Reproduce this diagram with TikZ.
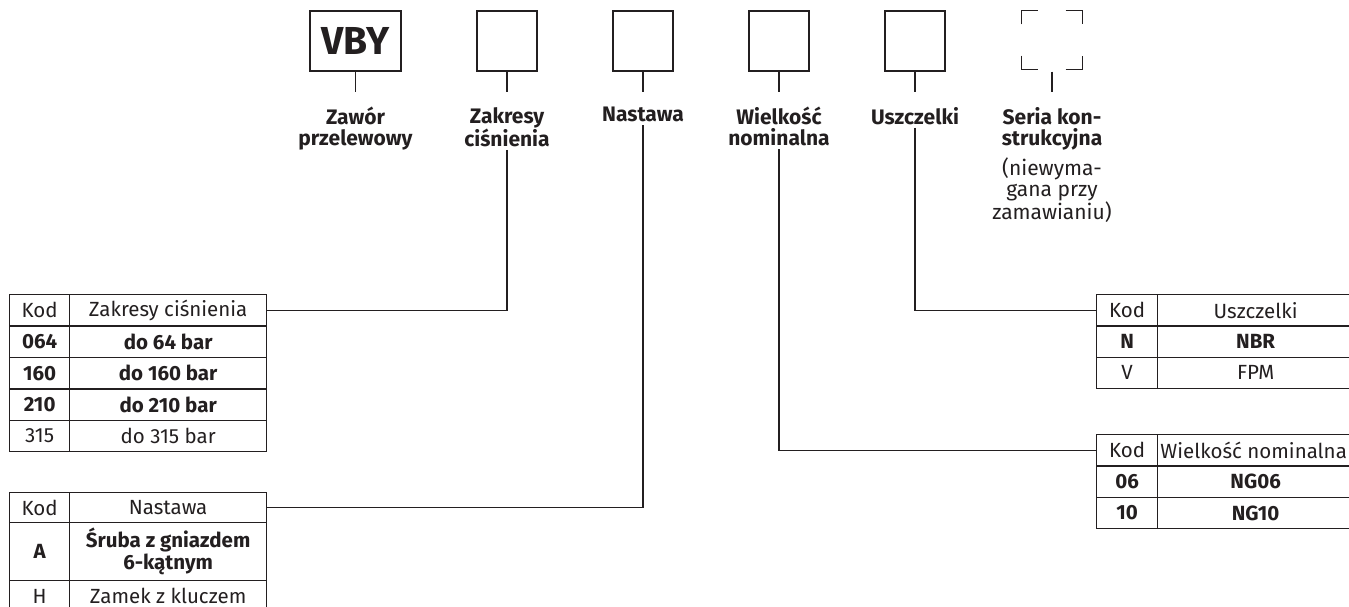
\documentclass[tikz,border=0pt]{standalone}
\usepackage{fontspec}
\setmainfont{Fira Sans}
\definecolor{ink}{HTML}{231F20}
\begin{document}
\begin{tikzpicture}[x=1pt,y=-1pt,
  every node/.style={text=ink},
  codebox/.style={draw=ink, line width=1.4pt, minimum width=60pt, minimum height=60pt, inner sep=0pt},
  lbl/.style={font=\bfseries\fontsize{21}{21}\selectfont, align=center, anchor=north, inner sep=3pt},
  conn/.style={draw=ink, line width=1.3pt},
  cell/.style={draw=ink, line width=1.3pt, inner sep=0pt, anchor=north west, align=center, font=\fontsize{20.5}{22}\selectfont},
  bcell/.style={cell, font=\bfseries\fontsize{20.5}{22}\selectfont}
]
\clip (0,0) rectangle (1349,607);
\fill[white] (0,0) rectangle (1349,607);

% code boxes
\node[codebox, minimum width=91pt, font=\bfseries\fontsize{39}{40}\selectfont] (b1) at (355.5,41) {VBY};
\node[codebox] (b2) at (507,41) {};
\node[codebox] (b3) at (643,41) {};
\node[codebox] (b4) at (779,41) {};
\node[codebox] (b5) at (915,41) {};
\node[codebox, draw=none, minimum height=58pt] (b6) at (1052,40) {};
\draw[conn] (b6.north west) ++(0,14) -- ++(0,-14) -- ++(17,0);
\draw[conn] (b6.north east) ++(-17,0) -- ++(17,0) -- ++(0,14);
\draw[conn] (b6.south west) ++(0,-14) -- ++(0,14) -- ++(17,0);
\draw[conn] (b6.south east) ++(-17,0) -- ++(17,0) -- ++(0,-14);

% ticks
\foreach \b in {b1,b2,b3,b4,b5} {\draw[conn] (\b.south) -- (\b.south |- 0,92);}
\draw[conn] (b6.south) ++(0,2) -- (b6.south |- 0,92);

% labels
\node[lbl] (l1) at (355.5,104) {Zawór\\przelewowy};
\node[lbl] (l2) at (507,104) {Zakresy\\ciśnienia};
\node[lbl] (l3) at (643,104) {Nastawa};
\node[lbl] (l4) at (779,104) {Wielkość\\nominalna};
\node[lbl] (l5) at (915,104) {Uszczelki};
\node[lbl] (l6) at (1052,104) {Seria kon-\\strukcyjna\\[7pt]\mdseries(niewyma-\\\mdseries gana przy\\\mdseries zamawianiu)};

% table 1
\node[cell, minimum width=60pt, minimum height=31.4pt] (t1h1) at (9,294) {Kod};
\node[cell, minimum width=197pt, minimum height=31.4pt] (t1h2) at (69,294) {Zakresy ciśnienia};
\node[bcell, minimum width=60pt, minimum height=31.4pt] (t1a1) at (9,325.4) {064};
\node[bcell, minimum width=197pt, minimum height=31.4pt] (t1a2) at (69,325.4) {do 64 bar};
\node[bcell, minimum width=60pt, minimum height=31.4pt] (t1b1) at (9,356.8) {160};
\node[bcell, minimum width=197pt, minimum height=31.4pt] (t1b2) at (69,356.8) {do 160 bar};
\node[bcell, minimum width=60pt, minimum height=31.4pt] (t1c1) at (9,388.2) {210};
\node[bcell, minimum width=197pt, minimum height=31.4pt] (t1c2) at (69,388.2) {do 210 bar};
\node[cell, minimum width=60pt, minimum height=31.4pt] (t1d1) at (9,419.6) {315};
\node[cell, minimum width=197pt, minimum height=31.4pt] (t1d2) at (69,419.6) {do 315 bar};

% table 2
\node[cell, minimum width=60pt, minimum height=30pt] (t2h1) at (9,492) {Kod};
\node[cell, minimum width=197pt, minimum height=30pt] (t2h2) at (69,492) {Nastawa};
\node[bcell, minimum width=60pt, minimum height=58pt] (t2a1) at (9,522) {A};
\node[bcell, minimum width=197pt, minimum height=58pt] (t2a2) at (69,522) {Śruba z gniazdem\\6-kątnym};
\node[cell, minimum width=60pt, minimum height=31pt] (t2b1) at (9,580) {H};
\node[cell, minimum width=197pt, minimum height=31pt] (t2b2) at (69,580) {Zamek z kluczem};

% table 3
\node[cell, minimum width=61pt, minimum height=31.3pt] (t3h1) at (1096,294) {Kod};
\node[cell, minimum width=196pt, minimum height=31.3pt] (t3h2) at (1157,294) {Uszczelki};
\node[bcell, minimum width=61pt, minimum height=31.3pt] (t3a1) at (1096,325.3) {N};
\node[bcell, minimum width=196pt, minimum height=31.3pt] (t3a2) at (1157,325.3) {NBR};
\node[cell, minimum width=61pt, minimum height=31.3pt] (t3b1) at (1096,356.6) {V};
\node[cell, minimum width=196pt, minimum height=31.3pt] (t3b2) at (1157,356.6) {FPM};

% table 4
\node[cell, minimum width=61pt, minimum height=31.3pt] (t4h1) at (1096,434) {Kod};
\node[cell, minimum width=196pt, minimum height=31.3pt] (t4h2) at (1157,434) {\hspace*{-4pt}Wielkość nominalna};
\node[bcell, minimum width=61pt, minimum height=31.3pt] (t4a1) at (1096,465.3) {06};
\node[bcell, minimum width=196pt, minimum height=31.3pt] (t4a2) at (1157,465.3) {NG06};
\node[bcell, minimum width=61pt, minimum height=31.3pt] (t4b1) at (1096,496.6) {10};
\node[bcell, minimum width=196pt, minimum height=31.3pt] (t4b2) at (1157,496.6) {NG10};

% connectors
\draw[conn] (l2.south) |- (t1h2.east);
\draw[conn] (l3.south) |- (t2h2.east);
\draw[conn] (l4.south) |- (t4h1.west);
\draw[conn] (l5.south) |- (t3h1.west);
\end{tikzpicture}
\end{document}
